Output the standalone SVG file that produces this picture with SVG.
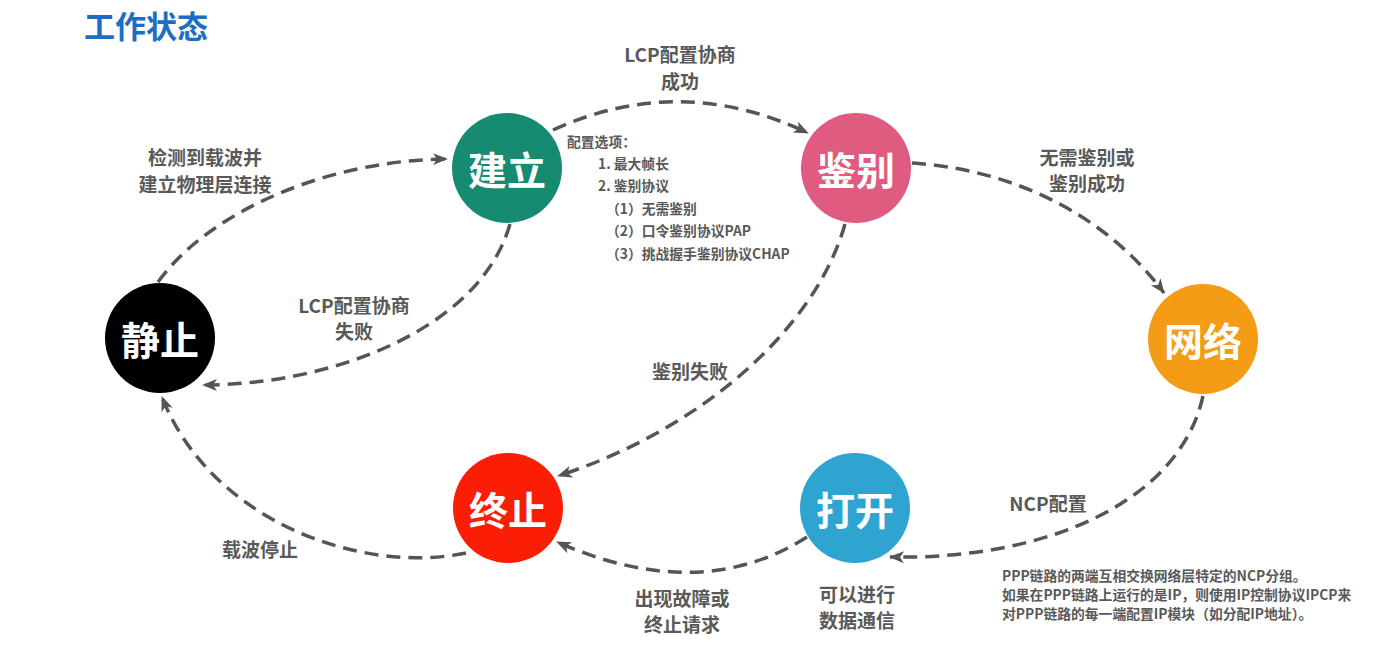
<svg xmlns="http://www.w3.org/2000/svg" width="1386" height="654" viewBox="0 0 1386 654">
<style>
text{font-family:"Noto Sans CJK SC","Noto Sans",sans-serif;font-weight:bold}
.title{font-size:31px;fill:#1b6ec2}
.node{font-size:39px;fill:#fff;text-anchor:middle;dominant-baseline:central}
.lbl{font-size:19px;fill:#595959;text-anchor:middle;dominant-baseline:central}
.small{font-size:13.8px;fill:#595959;dominant-baseline:central}
.note{font-size:13.8px;fill:#595959;dominant-baseline:central}
.conn path{fill:none;stroke:#555;stroke-width:3.5;stroke-dasharray:14 8;marker-end:url(#arr)}
</style>
<defs>
<marker id="arr" markerUnits="userSpaceOnUse" markerWidth="16" markerHeight="14" viewBox="0 0 16 14" refX="14" refY="7" orient="auto">
<path d="M0,1 L15,7 L0,13 L4,7 z" fill="#555"/>
</marker>
</defs>
<rect width="1386" height="654" fill="#fff"/>
<text class="title" x="84" y="38">工作状态</text>
<g id="connectors" class="conn">
<path d="M158,282 C210,210 330,160 447,159"/>
<path d="M553,130 Q680,72 808,133"/>
<path d="M510,224 C480,330 330,385 203,385"/>
<path d="M912,163 C1020,170 1110,220 1164,293"/>
<path d="M845,224 C815,330 700,430 558,476"/>
<path d="M1203,396 C1180,500 1050,560 890,557"/>
<path d="M807,537 Q700,605 557,542"/>
<path d="M466,553 C360,575 210,520 162,397"/>
</g>
<g id="n-jianli"><circle cx="507" cy="168" r="55" fill="#178a72"/><text class="node" x="507" y="168">建立</text></g>
<g id="n-jianbie"><circle cx="856" cy="168" r="55" fill="#e05b80"/><text class="node" x="856" y="168">鉴别</text></g>
<g id="n-wangluo"><circle cx="1203" cy="339" r="55" fill="#f59c17"/><text class="node" x="1203" y="339">网络</text></g>
<g id="n-jingzhi"><circle cx="160" cy="338" r="55" fill="#000"/><text class="node" x="160" y="338">静止</text></g>
<g id="n-zhongzhi"><circle cx="508" cy="508" r="55" fill="#fa1e05"/><text class="node" x="508" y="508">终止</text></g>
<g id="n-dakai"><circle cx="855" cy="508" r="55" fill="#2fa4d1"/><text class="node" x="855" y="508">打开</text></g>
<g id="labels">
<text class="lbl" x="205" y="156">检测到载波并</text>
<text class="lbl" x="205" y="183">建立物理层连接</text>
<text class="lbl" x="680" y="53">LCP配置协商</text>
<text class="lbl" x="680" y="80">成功</text>
<text class="lbl" x="354" y="304">LCP配置协商</text>
<text class="lbl" x="354" y="330">失败</text>
<text class="lbl" x="1087" y="156">无需鉴别或</text>
<text class="lbl" x="1087" y="182">鉴别成功</text>
<text class="lbl" x="690" y="370">鉴别失败</text>
<text class="lbl" x="1048" y="502">NCP配置</text>
<text class="lbl" x="857" y="593">可以进行</text>
<text class="lbl" x="857" y="619">数据通信</text>
<text class="lbl" x="682" y="597">出现故障或</text>
<text class="lbl" x="682" y="623">终止请求</text>
<text class="lbl" x="260" y="548">载波停止</text>
</g>
<g id="options">
<text class="small" x="567" y="141">配置选项：</text>
<text class="small" x="598" y="163">1. 最大帧长</text>
<text class="small" x="598" y="185">2. 鉴别协议</text>
<text class="small" x="606" y="208">（1）无需鉴别</text>
<text class="small" x="606" y="230">（2）口令鉴别协议PAP</text>
<text class="small" x="606" y="253">（3）挑战握手鉴别协议CHAP</text>
</g>
<g id="note">
<text class="note" x="1002" y="575">PPP链路的两端互相交换网络层特定的NCP分组。</text>
<text class="note" x="1002" y="594">如果在PPP链路上运行的是IP，则使用IP控制协议IPCP来</text>
<text class="note" x="1002" y="613">对PPP链路的每一端配置IP模块（如分配IP地址）。</text>
</g>
</svg>
